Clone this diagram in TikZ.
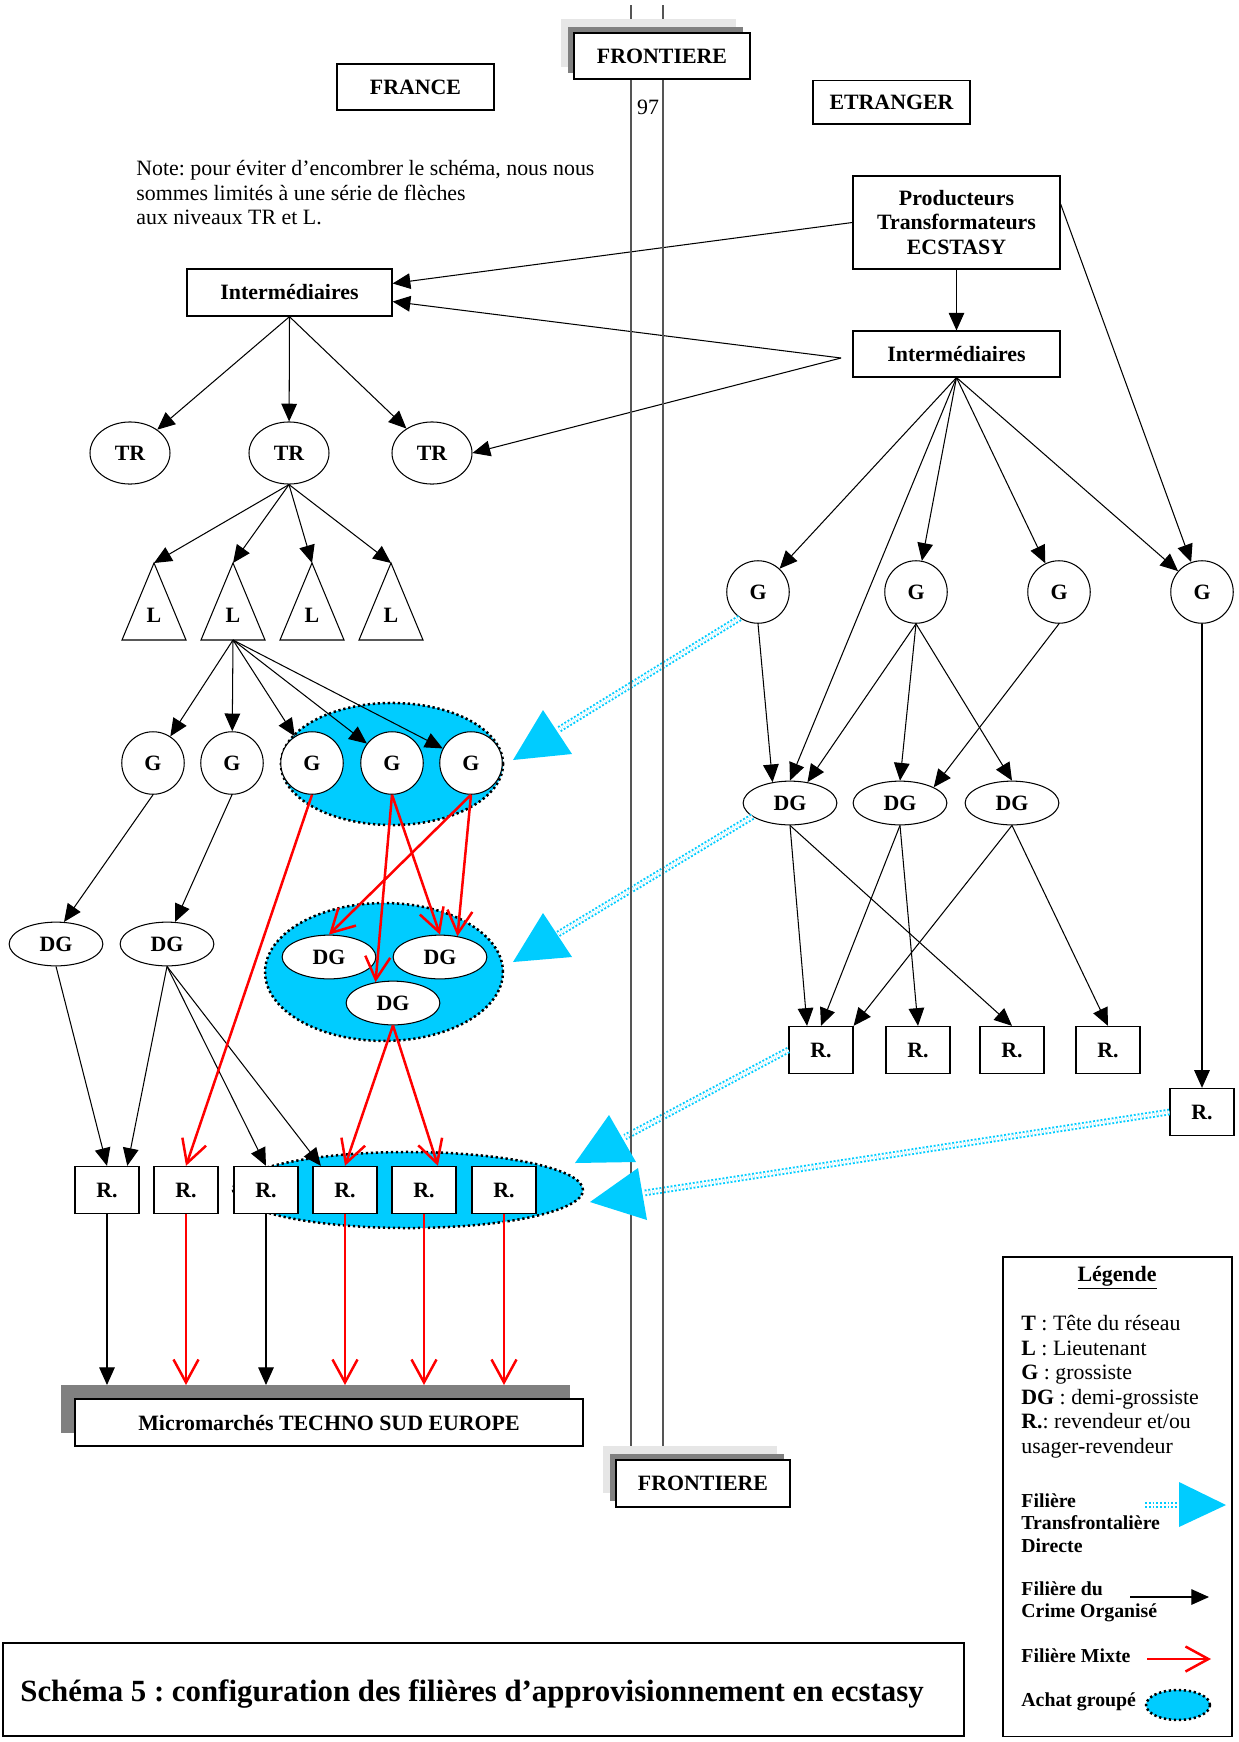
\documentclass[tikz,border=0pt]{standalone}
\usepackage{fontspec}
\setmainfont{Liberation Serif}
\usetikzlibrary{shapes.geometric,arrows.meta}
\definecolor{achat}{RGB}{0,204,255}
\definecolor{frontgray}{RGB}{85,85,85}
\definecolor{ombreclaire}{RGB}{230,230,230}
\definecolor{ombrefonce}{RGB}{128,128,128}
\frenchspacing
\newcommand{\lblfont}{\fontsize{10.5}{11.8}\selectfont\bfseries}
\newcommand{\txtfont}{\fontsize{10.5}{11.8}\selectfont}
\newcommand{\legfont}{\fontsize{9.5}{10.9}\selectfont\bfseries}
\newcommand{\titrefont}{\fontsize{14.8}{16}\selectfont\bfseries}
\tikzset{
	wbox/.style={draw, fill=white, line width=0.6pt, font=\lblfont, inner sep=0pt, align=center},
	rbox/.style={wbox, minimum width=30.7pt, minimum height=22.6pt},
	tr/.style={ellipse, draw, fill=white, line width=0.5pt, font=\lblfont, inner sep=0pt, minimum width=38.4pt, minimum height=29.8pt},
	gcirc/.style={circle, draw, fill=white, line width=0.5pt, font=\lblfont, inner sep=0pt, minimum size=30pt},
	dg/.style={ellipse, draw, fill=white, line width=0.5pt, font=\lblfont, inner sep=0pt, minimum width=45pt, minimum height=21pt},
	groupe/.style={ellipse, draw=black, fill=achat, line width=1.2pt, dash pattern=on 1.1pt off 1.3pt, inner sep=0pt},
	crime/.style={line width=0.5pt, -{Triangle[length=8.5pt,width=7.5pt]}},
	mixte/.style={draw=red, line width=1.2pt, -{Straight Barb[length=11pt,width=12pt]}},
	transf/.style={draw=achat, line width=0.9pt, double=white, double distance=1.4pt, dash pattern=on 0.9pt off 0.9pt},
}
\begin{document}
\begin{tikzpicture}[x=0.48pt,y=-0.48pt]
	\useasboundingbox (0,0) rectangle (1239,1742);
	\node[groupe, minimum width=106.6pt, minimum height=58.6pt] (grpG) at (392,764) {};
	\node[groupe, minimum width=114.2pt, minimum height=66.2pt] (grpDG) at (384,972) {};
	\node[groupe, minimum width=168pt, minimum height=36.5pt] (grpR) at (408,1190) {};

	\node[wbox, minimum width=75.4pt, minimum height=22pt] (france) at (415.5,87) {FRANCE};
	\node[wbox, minimum width=75.4pt, minimum height=21pt] (etranger) at (891.5,102) {ETRANGER};
	\node[anchor=north west, align=left, font=\txtfont, inner sep=0pt] (note) at (136,160) {Note: pour éviter d'encombrer le schéma, nous nous\\sommes limités à une série de flèches\\aux niveaux TR et L.};

	\node[wbox, minimum width=99.4pt, minimum height=44.6pt] (prod) at (956.5,222.5) {Producteurs\\Transformateurs\\ECSTASY};
	\node[wbox, minimum width=98.4pt, minimum height=22.6pt] (intL) at (289.5,292.5) {Intermédiaires};
	\node[wbox, minimum width=99.4pt, minimum height=22pt] (intR) at (956.5,354) {Intermédiaires};

	\foreach \x [count=\i] in {130,289,432}
		\node[tr] (TR\i) at (\x,453) {TR};
	\foreach \x [count=\i] in {154,233,312,391} {
		\draw[line width=0.5pt, fill=white] (\x,563) -- (\x+32,640) -- (\x-32,640) -- cycle;
		\coordinate (L\i top) at (\x,563);
		\node[font=\lblfont, inner sep=0pt] (L\i) at (\x,615) {L};
	}
	\coordinate (L2 bot) at (233,640);
	\foreach \x [count=\i] in {153,232,312,392,471}
		\node[gcirc] (G\i) at (\x,763) {G};
	\node[dg] (DG1) at (56,944) {DG};
	\node[dg] (DG2) at (167,944) {DG};
	\node[dg] (DGa) at (329,957) {DG};
	\node[dg] (DGb) at (440,957) {DG};
	\node[dg] (DGc) at (393,1003) {DG};
	\foreach \x [count=\i] in {107,186,266,345,424,504}
		\node[rbox] (R\i) at (\x,1190) {R.};

	\foreach \x [count=\i] in {758,916,1059,1202}
		\node[gcirc] (Ge\i) at (\x,592) {G};
	\foreach \x [count=\i] in {790,900,1012}
		\node[dg] (DGe\i) at (\x,803) {DG};
	\foreach \x [count=\i] in {821,918,1012,1108}
		\node[rbox] (Re\i) at (\x,1050) {R.};
	\node[rbox] (Re5) at (1202,1112) {R.};

	\fill[ombrefonce] (61,1385) rectangle (570,1433);
	\coordinate (msh) at (0,1385);
	\node[wbox, minimum width=243.8pt, minimum height=22.6pt] (micro) at (329,1422.5) {Micromarchés TECHNO SUD EUROPE};

	\draw[crime] (prod.10) -- (Ge4);
	\draw[crime] (prod.west) -- (intL.5);
	\draw[crime] (prod) -- (intR);
	\coordinate (fanR) at (841,358);
	\draw[crime] (fanR) -- (intL.-5);
	\draw[crime] (fanR) -- (TR3.east);
	\foreach \t in {TR1,TR2,TR3}
		\draw[crime] (intL.south) -- (\t);
	\foreach \i in {1,...,4}
		\draw[crime] (TR2.south) -- (L\i top);
	\foreach \i in {1,...,5}
		\draw[crime] (L2 bot) -- (G\i);
	\draw[crime] (G1.south) -- (DG1.70);
	\draw[crime] (G2.south) -- (DG2.70);
	\draw[crime] (DG1.south) -- (R1.north);
	\draw[crime] (DG2.south) -- (R1.50);
	\draw[crime] (DG2.south) -- (R3.north);
	\draw[crime] (DG2.south) -- (R4.135);
	\draw[mixte] (G3.south) -- (R2.north);
	\draw[mixte] (G4.south) -- (DGc.130);
	\draw[mixte] (G4.south) -- (DGb.north);
	\draw[mixte] (G5.south) -- (DGa.north);
	\draw[mixte] (G5.south) -- (DGb.50);
	\draw[mixte] (DGc.south) -- (R4.north);
	\draw[mixte] (DGc.south) -- (R5.60);
	\foreach \i in {1,3}
		\draw[crime] (R\i.south) -- (R\i.south |- msh);
	\foreach \i in {2,4,5,6}
		\draw[mixte] (R\i.south) -- (R\i.south |- msh);

	\foreach \t in {Ge1,Ge2,Ge3,Ge4}
		\draw[crime] (intR.south) -- (\t);
	\draw[crime] (intR.south) -- (DGe1.north);
	\draw[crime] (Ge1.south) -- (DGe1.130);
	\draw[crime] (Ge2.south) -- (DGe1.50);
	\draw[crime] (Ge2.south) -- (DGe2.north);
	\draw[crime] (Ge2.south) -- (DGe3.north);
	\draw[crime] (Ge3.south) -- (DGe2.25);
	\draw[crime] (DGe1.south) -- (Re1.120);
	\draw[crime] (DGe1.south) -- (Re3.north);
	\draw[crime] (DGe2.south) -- (Re1.north);
	\draw[crime] (DGe2.south) -- (Re2.north);
	\draw[crime] (DGe3.south) -- (Re1.north east);
	\draw[crime] (DGe3.south) -- (Re4.north);
	\draw[crime] (Ge4) -- (Re5);

	\coordinate (tA) at (558,730);
	\coordinate (tB) at (558,934);
	\coordinate (tC) at (625,1137);
	\coordinate (tD) at (644,1193);
	\draw[transf] (Ge1.235) -- (tA);
	\draw[transf] (DGe1.200) -- (tB);
	\draw[transf] (Re1.west) -- (tC);
	\draw[transf] (Re5.west) -- (tD);

	\draw[line width=1pt, frontgray] (631,5) -- (631,1450);
	\draw[line width=1pt, frontgray] (663,5) -- (663,1450);
	\fill[ombreclaire] (561,19) rectangle (736,67);
	\fill[ombrefonce] (568,27) rectangle (743,73);
	\node[wbox, minimum width=84.5pt, minimum height=22pt] (front1) at (662,56) {FRONTIERE};
	\node[font=\txtfont, inner sep=0pt] (num) at (648,107) {97};
	\fill[ombreclaire] (603,1446) rectangle (777,1493);
	\fill[ombrefonce] (610,1454) rectangle (784,1501);
	\node[wbox, minimum width=83.5pt, minimum height=22.6pt] (front2) at (703,1483.5) {FRONTIERE};

	\fill[achat] (543,710) -- (572,754) -- (513,760) -- cycle;
	\fill[achat] (543,913) -- (572,957) -- (513,962) -- cycle;
	\fill[achat] (609,1115) -- (636,1162) -- (575,1163) -- cycle;
	\fill[achat] (638,1168) -- (647,1220) -- (590,1202) -- cycle;

	\draw[line width=0.5pt] (1003,1257) rectangle (1232,1736);
	\node[font=\lblfont] (legtitre) at (1117,1278) {\underline{Légende}};
	\node[anchor=north west, align=left, font=\txtfont, inner sep=0pt] (legcles) at (1021,1315) {\textbf{T} : Tête du réseau\\\textbf{L} : Lieutenant\\\textbf{G} : grossiste\\\textbf{DG} : demi-grossiste\\\textbf{R.}: revendeur et/ou\\usager-revendeur};
	\node[anchor=north west, align=left, font=\legfont, inner sep=0pt] (legtrans) at (1021,1493) {Filière\\Transfrontalière\\Directe};
	\node[anchor=north west, align=left, font=\legfont, inner sep=0pt] (legcrime) at (1021,1581) {Filière du\\Crime Organisé};
	\node[anchor=west, font=\legfont, inner sep=0pt] (legmixte) at (1021,1656) {Filière Mixte};
	\node[anchor=west, font=\legfont, inner sep=0pt] (legachat) at (1021,1702) {Achat groupé};
	\draw[transf] (1145,1505) -- (1179,1505);
	\fill[achat] (1179,1482) -- (1226,1505) -- (1179,1527) -- cycle;
	\draw[crime] (1130,1597) -- (1209,1597);
	\draw[mixte] (1147,1659) -- (1211,1659);
	\node[groupe, minimum width=30.7pt, minimum height=14.4pt] (legell) at (1178,1705) {};

	\draw[line width=0.6pt] (3,1643) rectangle (964,1736);
	\node[anchor=west, font=\titrefont, inner sep=0pt] (titre) at (20,1694) {Schéma 5 : configuration des filières d'approvisionnement en ecstasy};
\end{tikzpicture}
\end{document}
